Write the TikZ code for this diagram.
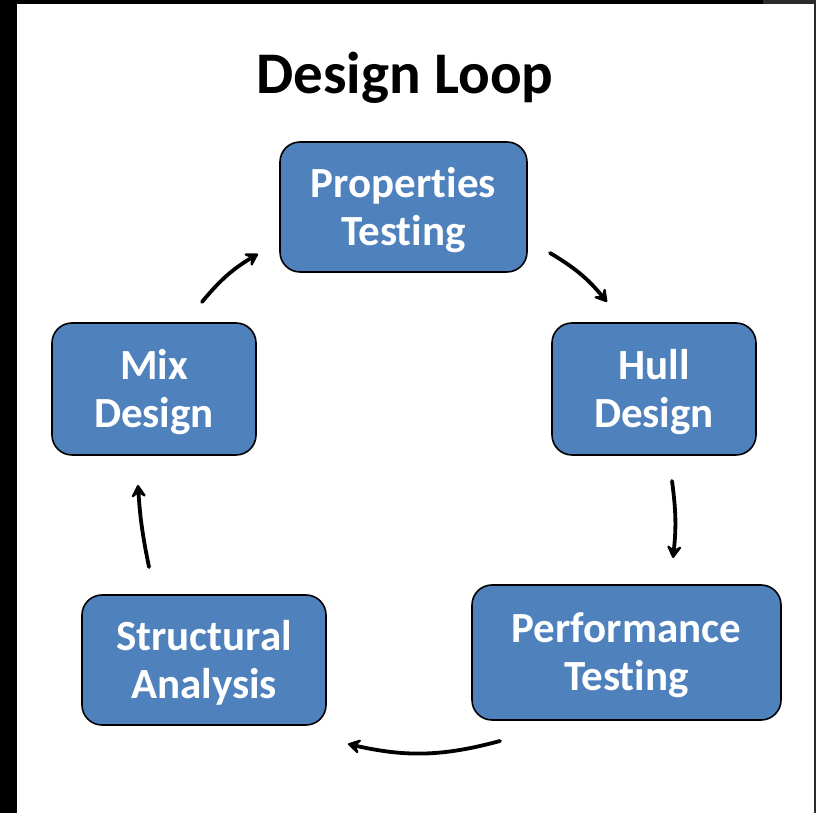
\documentclass[tikz,border=0pt]{standalone}
\usepackage{fontspec}
\setmainfont{Carlito}[RawFeature={-liga}]
\usetikzlibrary{arrows.meta}
\definecolor{boxblue}{HTML}{4F81BD}
\definecolor{edgegray}{HTML}{2B2B2B}
\tikzset{
  stagebox/.style={draw=black, line width=1.6pt, fill=boxblue, rounded corners=20pt,
    text=white, font=\bfseries\fontsize{43}{48}\selectfont, align=center,
    inner sep=0pt},
  stagetext/.style={text=white, font=\bfseries\fontsize{43}{48}\selectfont, align=center,
    inner sep=0pt},
  flow/.style={line width=3.8pt, line cap=round,
    -{Stealth[length=16pt,width=19pt,inset=7pt,round]}}
}
\begin{document}
\begin{tikzpicture}[x=1pt,y=1pt]
  \useasboundingbox (0,0) rectangle (816,813);
  % frame strips
  \fill[white] (0,0) rectangle (816,813);
  \fill[black] (0,0) rectangle (17,813);
  \fill[black] (0,809) rectangle (763,813);
  \fill[edgegray] (763,809) rectangle (816,813);
  \fill[edgegray] (814,0) rectangle (816,813);

  % title
  \node[anchor=base, font=\bfseries\fontsize{59}{70}\selectfont] (title) at (405,719) {Design Loop};

  % stages
  \node[stagebox, minimum width=247pt, minimum height=130pt] (prop) at (403.5,606) {};
  \node[stagebox, minimum width=204pt, minimum height=132pt] (hull) at (654,424) {};
  \node[stagebox, minimum width=309pt, minimum height=135pt] (perf) at (626.5,160.5) {};
  \node[stagebox, minimum width=244pt, minimum height=130pt] (struct) at (204,153) {};
  \node[stagebox, minimum width=204pt, minimum height=132pt] (mix) at (154,424) {};

  % stage labels, set slightly below the box centres
  \node[stagetext] (propt) at ([yshift=-3pt]prop.center) {Properties\\Testing};
  \node[stagetext] (hullt) at ([yshift=-3pt]hull.center) {Hull\\Design};
  \node[stagetext] (perft) at ([yshift=-3pt]perf.center) {Performance\\Testing};
  \node[stagetext] (structt) at ([yshift=-3pt]struct.center) {Structural\\Analysis};
  \node[stagetext] (mixt) at ([yshift=-3pt]mix.center) {Mix\\Design};

  % arrow ends between the boxes
  \coordinate (a1s) at (202,511);  \coordinate (a1e) at (258,559);
  \coordinate (a2s) at (550,560);  \coordinate (a2e) at (607,511);
  \coordinate (a3s) at (672,332);  \coordinate (a3e) at (673,255);
  \coordinate (a4s) at (500,72);   \coordinate (a4e) at (348,69);
  \coordinate (a5s) at (149,246);  \coordinate (a5e) at (138,328);

  % loop arrows
  \draw[flow] (a1s) to[bend left=10] (a1e);
  \draw[flow] (a2s) to[bend left=10] (a2e);
  \draw[flow] (a3s) to[bend left=7] (a3e);
  \draw[flow] (a4s) to[bend left=14] (a4e);
  \draw[flow] (a5s) to[bend left=4] (a5e);
\end{tikzpicture}
\end{document}
